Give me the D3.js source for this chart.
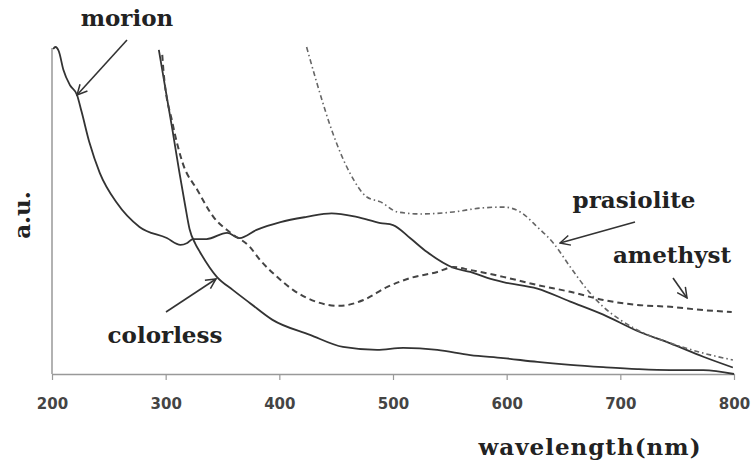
<!DOCTYPE html>
<html>
<head>
<meta charset="utf-8">
<script src="https://cdn.jsdelivr.net/npm/d3@7"></script>
<style>
  body { margin: 0; background: #fff; }
  .lbl { font-family: "DejaVu Serif", "Liberation Serif", serif; font-weight: bold; fill: #222; }
</style>
</head>
<body>
<div class="center"></div>
<script>
// spectra: wavelength (nm) and absorbance (a.u., 0-100)
var morionNm  = [201, 203, 206, 210, 216, 222, 226, 233, 242, 257, 277, 301, 313, 319, 324, 336, 354, 365, 380, 401, 424, 446, 468, 489, 500, 515, 530, 553, 568, 583, 597, 627, 656, 685, 715, 744, 773, 799];
var morionAu  = [99.7, 100.3, 99, 93.3, 88.5, 85.6, 80.5, 70.9, 61.7, 52.5, 45.1, 41.7, 39.6, 40.2, 41.4, 41.4, 43.3, 41.7, 44.2, 46.6, 48.2, 49.3, 48.2, 46.3, 45.7, 41.7, 37.4, 32.6, 31.3, 29.5, 28.2, 26.2, 22.2, 18.2, 13.2, 9.4, 5.3, 2];

var colorlessNm = [294, 301, 306, 312, 317, 321, 326, 330, 345, 359, 374, 394, 427, 456, 486, 509, 539, 568, 597, 627, 656, 685, 715, 744, 773, 800];
var colorlessAu = [99.4, 85, 74.8, 62, 52, 44.5, 40, 37.5, 29.8, 25.8, 21.8, 16.6, 12, 8.3, 7.4, 8, 7.4, 5.8, 4.9, 3.7, 2.8, 2.1, 1.5, 1.2, 1.2, 0];

var amethystNm = [297, 298, 306, 315, 328, 342, 357, 374, 383, 398, 412, 433, 453, 474, 495, 515, 539, 553, 568, 597, 627, 656, 685, 715, 744, 773, 798];
var amethystAu = [97.9, 93.3, 77, 64.7, 56.4, 48.2, 43.3, 39, 35, 29.8, 25.8, 22.1, 20.9, 22.7, 26.7, 29.4, 31.3, 32.8, 31.9, 29.8, 27.3, 25.2, 22.7, 21.2, 20.6, 19.6, 19];

var prasioliteNm = [424, 433, 447, 462, 477, 489, 504, 524, 553, 577, 597, 612, 627, 641, 656, 671, 685, 700, 715, 744, 773, 799];
var prasioliteAu = [100.3, 89.3, 73.9, 61.7, 54.3, 52.8, 49.7, 49.1, 49.7, 50.9, 51.2, 49.7, 45.1, 40.2, 32.8, 25.8, 20.6, 16.6, 13.5, 9.5, 6.4, 4.3];

var xTicks = [200, 300, 400, 500, 600, 700, 800];

var margin = {top: 48, right: 17, bottom: 87, left: 52},
    width = 751 - margin.left - margin.right,
    height = 461 - margin.top - margin.bottom;

var x = d3.scaleLinear().domain([200, 800]).range([0, width]);
var y = d3.scaleLinear().domain([0, 100]).range([height, 0]);

var page = d3.select("div.center").append("svg")
    .attr("width", 751)
    .attr("height", 461);

var svg = page.append("g")
    .attr("transform", "translate(" + margin.left + "," + margin.top + ")");

function zip(nm, au) {
    return nm.map(function(d, i) { return {nm: d, au: au[i]}; });
}

var line = d3.line()
    .x(function(d) { return x(d.nm); })
    .y(function(d) { return y(d.au); })
    .curve(d3.curveMonotoneX);

// axes
svg.append("g")
    .attr("transform", "translate(0," + height + ")")
    .call(d3.axisBottom(x).tickValues(xTicks).tickSize(6).tickSizeOuter(0).tickPadding(18))
    .call(function(g) {
        g.select(".domain").attr("stroke", "#999").attr("stroke-width", 1.5);
        g.selectAll(".tick line").attr("stroke", "#999").attr("stroke-width", 1.2);
        g.selectAll(".tick text")
            .attr("fill", "#444")
            .style("font-family", "DejaVu Sans, sans-serif")
            .style("font-size", "15px")
            .style("font-weight", "bold");
    });

svg.append("line")
    .attr("x1", 0).attr("x2", 0)
    .attr("y1", 0).attr("y2", height)
    .attr("stroke", "#999").attr("stroke-width", 1.5);

// the four spectra
var series = [
    {data: zip(morionNm, morionAu), dash: null, color: "#333", w: 1.8},
    {data: zip(colorlessNm, colorlessAu), dash: null, color: "#333", w: 1.8},
    {data: zip(amethystNm, amethystAu), dash: "6,4", color: "#444", w: 2},
    {data: zip(prasioliteNm, prasioliteAu), dash: "5,3,1.5,3", color: "#666", w: 1.6}
];

series.forEach(function(s) {
    svg.append("path")
        .datum(s.data)
        .attr("fill", "none")
        .attr("stroke", s.color)
        .attr("stroke-width", s.w)
        .attr("stroke-dasharray", s.dash)
        .attr("d", line);
});

// labels and arrows (in page coordinates)
var defs = page.append("defs");
defs.append("marker")
    .attr("id", "arr")
    .attr("viewBox", "0 0 12 12")
    .attr("refX", 11).attr("refY", 6)
    .attr("markerWidth", 12).attr("markerHeight", 12)
    .attr("markerUnits", "userSpaceOnUse")
    .attr("orient", "auto")
    .append("path")
    .attr("d", "M1,1 L11,6 L1,11")
    .attr("fill", "none")
    .attr("stroke", "#333")
    .attr("stroke-width", 1.5);

var arrows = [
    [127, 40, 77, 95],
    [635, 222, 560, 243],
    [673, 278, 687, 298],
    [166, 312, 216, 279]
];
arrows.forEach(function(a) {
    page.append("line")
        .attr("x1", a[0]).attr("y1", a[1])
        .attr("x2", a[2]).attr("y2", a[3])
        .attr("stroke", "#333").attr("stroke-width", 1.6)
        .attr("marker-end", "url(#arr)");
});

var labels = [
    {t: "morion", x: 127, y: 26},
    {t: "prasiolite", x: 634, y: 208},
    {t: "amethyst", x: 672, y: 263},
    {t: "colorless", x: 165, y: 343}
];
labels.forEach(function(l) {
    page.append("text")
        .attr("class", "lbl")
        .attr("x", l.x).attr("y", l.y)
        .attr("text-anchor", "middle")
        .style("font-size", "23px")
        .text(l.t);
});

page.append("text")
    .attr("class", "lbl")
    .attr("x", 590).attr("y", 455)
    .attr("text-anchor", "middle")
    .style("font-size", "23px")
    .style("letter-spacing", "1px")
    .text("wavelength(nm)");

page.append("text")
    .attr("class", "lbl")
    .attr("transform", "translate(30,215) rotate(-90)")
    .attr("text-anchor", "middle")
    .style("font-size", "23px")
    .text("a.u.");
</script>
</body>
</html>
